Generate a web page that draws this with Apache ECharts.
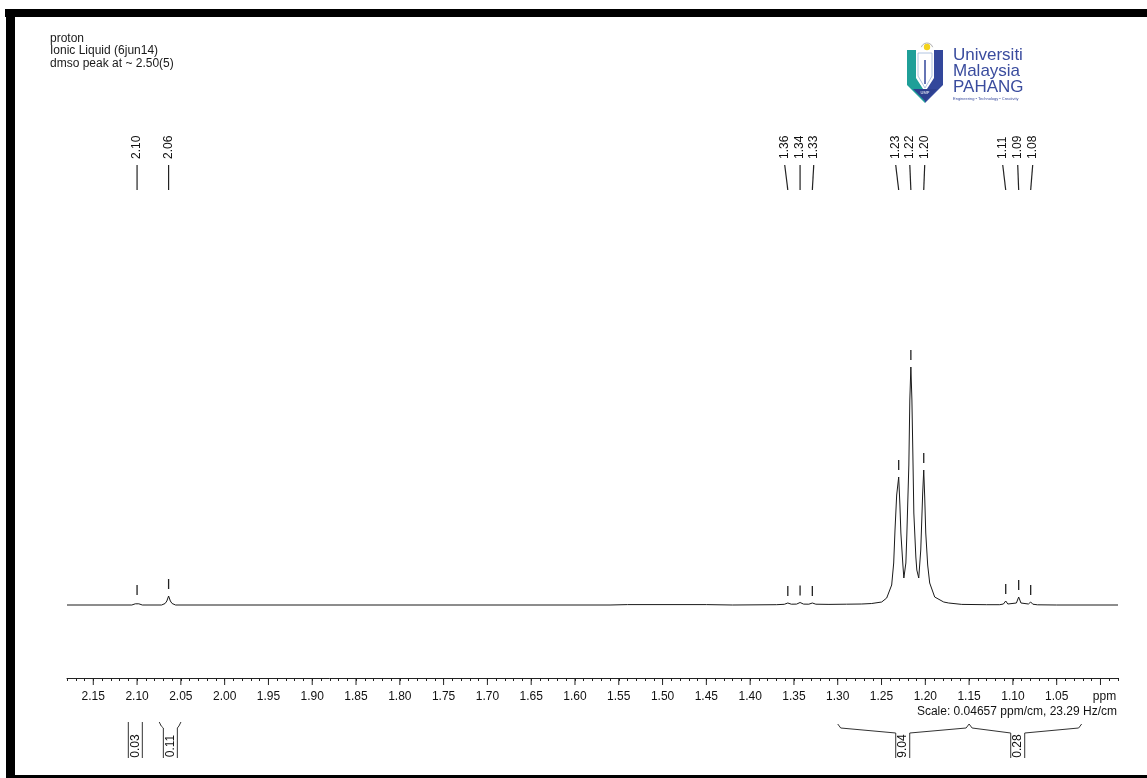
<!DOCTYPE html>
<html>
<head>
<meta charset="utf-8">
<script src="https://cdn.jsdelivr.net/npm/echarts@6/dist/echarts.min.js"></script>
<style>
html,body{margin:0;padding:0;background:#fff;}
#chart{width:1147px;height:778px;}
</style>
</head>
<body>
<div id="chart"></div>
<script>
// ---------------- DATA ----------------
// spectrum: [ppm, intensity] (intensity in arbitrary units)
const spectrum = [
  [2.180,0],[2.106,0],[2.102,1.2],[2.100,3],[2.098,1.2],[2.094,0],
  [2.072,0],[2.068,1.5],[2.066,4],[2.064,9],[2.062,4],[2.060,1.5],[2.056,0],
  [1.560,0],[1.540,0.4],[1.450,0.4],[1.420,0],
  [1.370,0.3],[1.361,0.7],[1.357,2],[1.353,0.8],[1.347,0.9],[1.343,2.5],[1.339,0.9],
  [1.333,0.8],[1.329,2],[1.325,0.8],[1.310,0.6],
  [1.290,0.8],[1.2726,1],[1.2612,1.5],[1.2498,3],[1.2441,7],[1.2384,20],[1.2361,42],
  [1.2346,75],[1.2327,110],[1.2304,128],[1.2290,100],[1.2279,72],[1.2256,40],[1.2245,27],
  [1.2222,42],[1.2211,70],[1.2188,140],[1.2177,205],[1.2165,238],[1.2153,205],[1.2142,150],
  [1.2131,92],[1.2108,48],[1.2097,35],[1.2075,27],[1.2052,55],[1.2030,112],[1.2018,135],
  [1.2007,108],[1.1995,72],[1.1973,40],[1.1950,22],[1.1893,8],[1.1790,3],[1.1733,2],
  [1.1584,0.6],[1.130,0.3],
  [1.115,0.3],[1.1108,1],[1.1082,4],[1.1058,1],[1.0960,2],[1.0934,8],[1.0908,2],
  [1.0823,1],[1.0797,3],[1.0773,0.8],[1.072,0.2],[1.050,0],[0.980,0]
];

// picked peaks
const peakLabels  = ['2.10','2.06','1.36','1.34','1.33','1.23','1.22','1.20','1.11','1.09','1.08'];
const peakPpm     = [2.100, 2.064, 1.357, 1.343, 1.329, 1.2304, 1.2165, 1.2018, 1.1082, 1.0934, 1.0797];
const peakHeight  = [3, 9, 2, 2.5, 2, 128, 238, 135, 4, 8, 3];
const peakLabelAt = [2.100, 2.064, 1.3605, 1.343, 1.3274, 1.2338, 1.2177, 1.2007, 1.1116, 1.0945, 1.0774];

// integrals
const integralValues = ['0.03', '0.11', '9.04', '0.28'];
const integralFrom   = [2.110, 2.0747, 1.300, 1.150];
const integralTo     = [2.094, 2.0499, 1.150, 1.0215];
const integralAt     = [2.102, 2.062, 1.2258, 1.0945];

// x axis
const majorTicks = [2.15,2.10,2.05,2.00,1.95,1.90,1.85,1.80,1.75,1.70,1.65,1.60,1.55,1.50,1.45,1.40,1.35,1.30,1.25,1.20,1.15,1.10,1.05,1.00];
const tickLabels = ['2.15','2.10','2.05','2.00','1.95','1.90','1.85','1.80','1.75','1.70','1.65','1.60','1.55','1.50','1.45','1.40','1.35','1.30','1.25','1.20','1.15','1.10','1.05','ppm'];

const headerText = ['proton', 'Ionic Liquid (6jun14)', 'dmso peak at ~ 2.50(5)'];
const scaleText = 'Scale: 0.04657 ppm/cm, 23.29 Hz/cm';

// ---------------- CHART ----------------
const FONT = '"Liberation Sans", Arial, Helvetica, sans-serif';
const YMIN = -73, YMAX = 550;
const chart = echarts.init(document.getElementById('chart'), null, {renderer: 'canvas'});

const option = {
  animation: false,
  backgroundColor: '#ffffff',
  title: {
    text: headerText.join('\n'),
    left: 50, top: 32, padding: 0,
    textStyle: {fontFamily: FONT, fontSize: 12, fontWeight: 'normal', color: '#1a1a1a', lineHeight: 12.5}
  },
  grid: {left: 67, right: 29, top: 55, bottom: 100, containLabel: false},
  xAxis: {
    type: 'value', inverse: true, min: 0.98, max: 2.18, interval: 0.01,
    splitLine: {show: false},
    axisLine: {show: true, onZero: false, lineStyle: {color: '#222', width: 1}},
    axisTick: {show: true, length: 3, lineStyle: {color: '#222', width: 1}},
    axisLabel: {
      show: true, margin: 13, color: '#111', fontFamily: FONT, fontSize: 12,
      showMinLabel: true, showMaxLabel: true,
      rich: {u: {fontFamily: FONT, fontSize: 12, color: '#111', padding: [0, 0, 0, 8]}},
      formatter: function (v) {
        const k = Math.round(v * 100);
        for (let j = 0; j < majorTicks.length; j++) {
          if (Math.round(majorTicks[j] * 100) === k) {
            return tickLabels[j] === 'ppm' ? '{u|ppm}' : tickLabels[j];
          }
        }
        return '';
      }
    }
  },
  yAxis: {type: 'value', min: YMIN, max: YMAX, show: false},
  series: [
    {
      type: 'line', data: spectrum, showSymbol: false, symbol: 'none',
      lineStyle: {color: '#1a1a1a', width: 1}, silent: true
    },
    // major ticks
    {
      type: 'custom', clip: false, silent: true,
      data: majorTicks.map((v, i) => [v, YMIN, i]),
      encode: {x: 0, y: 1},
      renderItem: function (params, api) {
        const p = api.coord([api.value(0), YMIN]);
        return {type: 'line', shape: {x1: p[0], y1: p[1], x2: p[0], y2: p[1] + 7},
          style: {stroke: '#222', lineWidth: 1}};
      }
    },
    // peak labels and markers
    {
      type: 'custom', clip: false, silent: true,
      data: peakPpm.map((v, i) => [v, 0, i]),
      encode: {x: 0, y: 1},
      renderItem: function (params, api) {
        const i = api.value(2);
        const top = api.coord([peakLabelAt[i], 440]);
        const bot = api.coord([peakPpm[i], 415]);
        const txt = api.coord([peakLabelAt[i], 446]);
        const m1 = api.coord([peakPpm[i], peakHeight[i] + 7]);
        const m2 = api.coord([peakPpm[i], peakHeight[i] + 17]);
        return {type: 'group', children: [
          {type: 'line', shape: {x1: top[0], y1: top[1], x2: bot[0], y2: bot[1]}, style: {stroke: '#222', lineWidth: 1.2}},
          {type: 'line', shape: {x1: m1[0], y1: m1[1], x2: m2[0], y2: m2[1]}, style: {stroke: '#222', lineWidth: 1.3}},
          {type: 'text', x: txt[0], y: txt[1], rotation: Math.PI / 2,
            style: {text: peakLabels[i], fill: '#111', font: '12px ' + FONT, align: 'left', verticalAlign: 'middle'}}
        ]};
      }
    },
    // integrals
    {
      type: 'custom', clip: false, silent: true,
      data: integralValues.map((v, i) => [integralAt[i], YMIN, i]),
      encode: {x: 0, y: 1},
      renderItem: function (params, api) {
        const i = api.value(2);
        const axisY = api.coord([integralAt[i], YMIN])[1];
        const xs = api.coord([integralFrom[i], YMIN])[0];
        const xe = api.coord([integralTo[i], YMIN])[0];
        const xc = api.coord([integralAt[i], YMIN])[0];
        const hw = 7;
        const top = axisY + 44, bottom = axisY + 80;
        const st = {stroke: '#333', lineWidth: 1, fill: null};
        let left, right;
        if (xc - hw - xs > 12) {
          left = [[xs, top + 2], [xs + 3, top + 6], [xc - hw, top + 11], [xc - hw, bottom]];
          right = [[xc + hw, bottom], [xc + hw, top + 11], [xe - 3, top + 6], [xe, top + 2]];
        } else {
          left = [[xs, top], [Math.min(xs + 2, xc - hw), top + 4], [xc - hw, top + 6], [xc - hw, bottom]];
          right = [[xc + hw, bottom], [xc + hw, top + 6], [Math.max(xe - 2, xc + hw), top + 4], [xe, top]];
        }
        return {type: 'group', children: [
          {type: 'polyline', shape: {points: left}, style: st},
          {type: 'polyline', shape: {points: right}, style: st},
          {type: 'text', x: xc, y: bottom - 12, rotation: Math.PI / 2,
            style: {text: integralValues[i], fill: '#111', font: '12px ' + FONT, align: 'center', verticalAlign: 'middle'}}
        ]};
      }
    }
  ],
  graphic: [
    // frame
    {type: 'rect', shape: {x: 5, y: 9, width: 1142, height: 8}, style: {fill: '#000'}},
    {type: 'rect', shape: {x: 6, y: 9, width: 9, height: 769}, style: {fill: '#000'}},
    {type: 'rect', shape: {x: 6, y: 775, width: 1141, height: 3}, style: {fill: '#000'}},
    // scale text
    {type: 'text', x: 1117, y: 712, style: {text: scaleText, fill: '#111', font: '12px ' + FONT, align: 'right', verticalAlign: 'middle'}},
    // logo shield
    {type: 'polygon', shape: {points: [[907,50],[916,50],[916,78],[925,92],[925,103],[907,85]]}, style: {fill: '#1f9f98'}},
    {type: 'polygon', shape: {points: [[934,50],[943,50],[943,85],[925,103],[925,92],[934,78]]}, style: {fill: '#33479b'}},
    {type: 'polygon', shape: {points: [[918,53],[932,53],[932,76],[925,88],[918,76]]}, style: {fill: '#ffffff', stroke: '#9fb6d8', lineWidth: 0.8}},
    {type: 'line', shape: {x1: 925, y1: 60, x2: 925, y2: 84}, style: {stroke: '#33479b', lineWidth: 1.5}},
    {type: 'polygon', shape: {points: [[913,89],[937,89],[925,101]]}, style: {fill: '#2d3f8f'}},
    {type: 'text', x: 925, y: 93, style: {text: 'UMP', fill: '#fff', font: '4px ' + FONT, align: 'center', verticalAlign: 'middle'}},
    {type: 'arc', shape: {cx: 927, cy: 49, r: 6, startAngle: Math.PI * 1.1, endAngle: Math.PI * 1.9}, style: {stroke: '#b0b0b0', lineWidth: 1, fill: null}},
    {type: 'circle', shape: {cx: 927, cy: 47, r: 3.2}, style: {fill: '#f3d21c'}},
    // logo text
    {type: 'text', x: 953, y: 55.5, style: {text: 'Universiti', fill: '#3a4c9e', font: '17px ' + FONT, align: 'left', verticalAlign: 'middle'}},
    {type: 'text', x: 953, y: 71.5, style: {text: 'Malaysia', fill: '#3a4c9e', font: '17px ' + FONT, align: 'left', verticalAlign: 'middle'}},
    {type: 'text', x: 953, y: 87, style: {text: 'PAHANG', fill: '#3a4c9e', font: '17px ' + FONT, align: 'left', verticalAlign: 'middle'}},
    {type: 'text', x: 953, y: 98.5, style: {text: 'Engineering • Technology • Creativity', fill: '#3a4c9e', font: '4px ' + FONT, align: 'left', verticalAlign: 'middle'}}
  ]
};
chart.setOption(option);
</script>
</body>
</html>
